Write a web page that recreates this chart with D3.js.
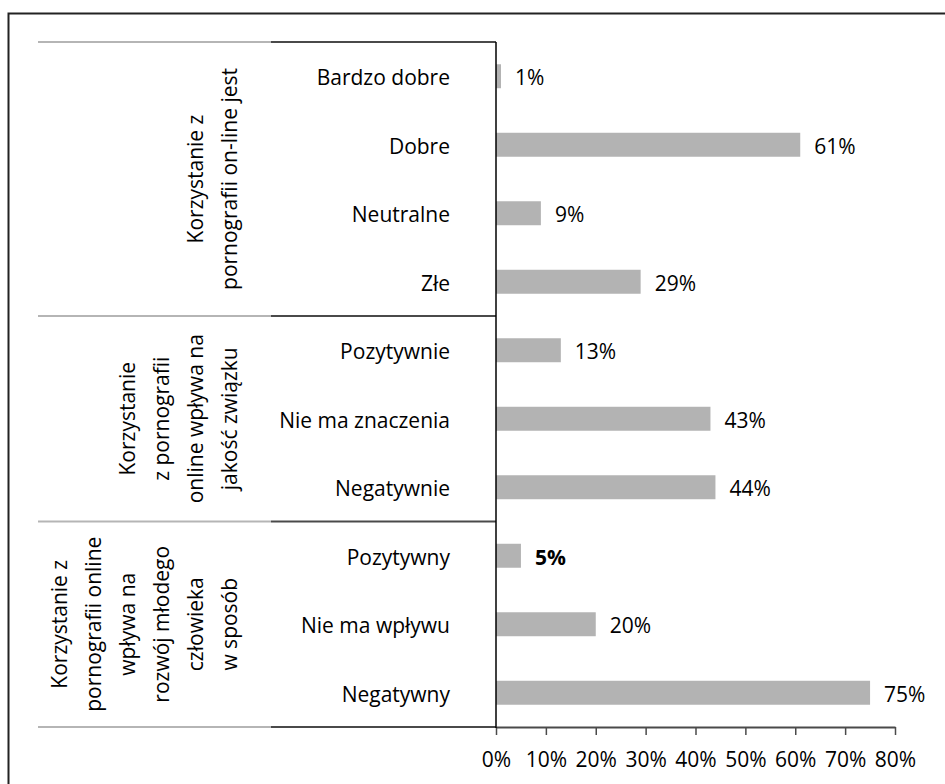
<!DOCTYPE html>
<html>
<head>
<meta charset="utf-8">
<script src="https://cdn.jsdelivr.net/npm/d3@7/dist/d3.min.js"></script>
<style>
  html, body { margin: 0; padding: 0; background: #fff; }
  svg { display: block; }
  text { font-family: "Open Sans", "Noto Sans", sans-serif; fill: #000; }
</style>
</head>
<body>
<svg id="chart" width="945" height="784"></svg>
<script>
// ---- data ----
const categories = [
  "Bardzo dobre", "Dobre", "Neutralne", "Złe",
  "Pozytywnie", "Nie ma znaczenia", "Negatywnie",
  "Pozytywny", "Nie ma wpływu", "Negatywny"
];
const values = [1, 61, 9, 29, 13, 43, 44, 5, 20, 75];
const groupSizes = [4, 3, 3];
const groupLabels = [
  ["Korzystanie z", "pornografii on-line jest"],
  ["Korzystanie", "z pornografii", "online wpływa na", "jakość związku"],
  ["Korzystanie z", "pornografii online", "wpływa na", "rozwój młodego", "człowieka", "w sposób"]
];
const boldValueCategories = ["Pozytywny"];
const xTicks = [0, 10, 20, 30, 40, 50, 60, 70, 80];

(function () {
// ---- layout ----
const svg = d3.select("#chart");
const axisX = 496, plotTop = 42, plotBottom = 727, xMax = 895;
const sepLeft = 38, sepMid = 271;
const fontSize = 21;

const x = d3.scaleLinear().domain([0, 80]).range([axisX, xMax]);
const y = d3.scaleBand().domain(categories).range([plotTop, plotBottom])
  .paddingInner(0.65).paddingOuter(0.325);
const gap = (y.step() - y.bandwidth()) / 2;

// outer border (open on right/bottom)
svg.append("path")
  .attr("d", "M8.5,800 V13.5 H960")
  .attr("fill", "none").attr("stroke", "#222").attr("stroke-width", 2);

// bars
svg.append("g").selectAll("rect").data(categories).join("rect")
  .attr("x", x(0))
  .attr("y", d => y(d))
  .attr("width", (d, i) => x(values[i]) - x(0))
  .attr("height", y.bandwidth())
  .attr("fill", "#b3b3b3");

// value labels
svg.append("g").selectAll("text").data(categories).join("text")
  .attr("x", (d, i) => x(values[i]) + 14)
  .attr("y", d => y(d) + y.bandwidth() / 2)
  .attr("dy", "0.42em")
  .attr("font-size", fontSize)
  .attr("font-weight", d => boldValueCategories.includes(d) ? "bold" : "normal")
  .text((d, i) => values[i] + "%");

// category labels
svg.append("g").selectAll("text").data(categories).join("text")
  .attr("x", 450)
  .attr("y", d => y(d) + y.bandwidth() / 2)
  .attr("dy", "0.42em")
  .attr("text-anchor", "end")
  .attr("font-size", fontSize)
  .text(d => d);

// group boundaries
let idx = 0;
const bounds = [y(categories[0]) - gap];
const groups = groupSizes.map((n, gi) => {
  const first = categories[idx], last = categories[idx + n - 1];
  idx += n;
  const y0 = y(first) - gap, y1 = y(last) + y.bandwidth() + gap;
  bounds.push(y1);
  return { y0, y1, lines: groupLabels[gi] };
});

// separators
const sep = svg.append("g");
bounds.forEach(b => {
  sep.append("line").attr("x1", sepLeft).attr("x2", sepMid).attr("y1", b).attr("y2", b)
    .attr("stroke", "#b5b5b5").attr("stroke-width", 2);
  sep.append("line").attr("x1", sepMid).attr("x2", axisX).attr("y1", b).attr("y2", b)
    .attr("stroke", "#4a4a4a").attr("stroke-width", 2);
});

// group labels (rotated)
const lineGap = 34, lastBaseline = 237;
groups.forEach(g => {
  const cy = (g.y0 + g.y1) / 2;
  const t = svg.append("text")
    .attr("transform", `translate(0,${cy}) rotate(-90)`)
    .attr("text-anchor", "middle")
    .attr("font-size", fontSize);
  const n = g.lines.length;
  g.lines.forEach((line, i) => {
    t.append("tspan").attr("x", 0).attr("y", lastBaseline - lineGap * (n - 1 - i)).text(line);
  });
});

// x axis
const xAxis = d3.axisBottom(x).tickValues(xTicks).tickSize(8).tickSizeOuter(0)
  .tickFormat(d => d + "%");
const ax = svg.append("g").attr("transform", `translate(0,${plotBottom})`).call(xAxis);
ax.select(".domain").attr("stroke", "#4a4a4a").attr("stroke-width", 2);
ax.selectAll(".tick line").attr("stroke", "#4a4a4a").attr("stroke-width", 1.5);
ax.selectAll(".tick text")
  .attr("y", 40).attr("dy", 0)
  .attr("font-size", fontSize)
  .attr("font-family", "'Open Sans', 'Noto Sans', sans-serif")
  .attr("fill", "#000");

// vertical axis line
svg.append("line").attr("x1", axisX).attr("x2", axisX)
  .attr("y1", plotTop).attr("y2", plotBottom + 1)
  .attr("stroke", "#000").attr("stroke-width", 1.5);
})();
</script>
</body>
</html>
